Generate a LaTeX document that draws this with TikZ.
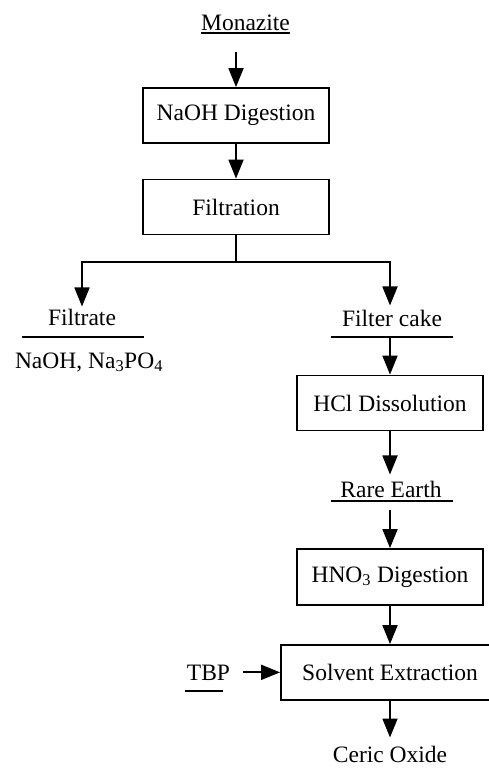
\documentclass[tikz,border=0pt]{standalone}
\usepackage{fontspec}
\setmainfont{Liberation Serif}
\usetikzlibrary{arrows.meta}
\begin{document}
\begin{tikzpicture}[x=1pt,y=-1pt,
  font=\fontsize{23.5}{28}\selectfont,
  proc/.style={draw, line width=1.8pt, minimum width=186pt, minimum height=55pt, inner sep=0pt},
  lbl/.style={inner sep=0pt, anchor=base},
  flow/.style={line width=1.8pt, -{Triangle[length=19pt,width=15pt]}},
  rulel/.style={line width=1.6pt}]
\useasboundingbox (0,0) rectangle (489,773);
% nodes
\node[lbl] (mon) at (245.5,31) {Monazite};
\node[proc] (naoh) at (236,115.5) {NaOH Digestion};
\node[proc] (filt) at (236,207) {Filtration};
\coordinate (br) at (236,262);
\node[lbl] (ftr) at (82,325) {Filtrate};
\node[lbl] (na) at (89,368) {NaOH, Na\textsubscript{3}PO\textsubscript{4}};
\node[lbl] (fc) at (392,326) {Filter cake};
\node[proc] (hcl) at (390,403) {HCl Dissolution};
\node[lbl] (re) at (391,497) {Rare Earth};
\node[proc, minimum height=56pt] (hno) at (390,577) {HNO\textsubscript{3} Digestion};
\node[proc, minimum width=218pt] (sx) at (390,672.5) {Solvent Extraction};
\node[lbl] (tbp) at (208.5,680) {TBP};
\node[lbl] (ce) at (390,762) {Ceric Oxide};
% underlines
\draw[rulel] ([yshift=-2pt]mon.base west) -- ([yshift=-2pt]mon.base east);
\draw[rulel] ([xshift=-60pt,yshift=-12pt]ftr.base) -- ([xshift=62pt,yshift=-12pt]ftr.base);
\draw[rulel] ([xshift=-61pt,yshift=-11pt]fc.base) -- ([xshift=61pt,yshift=-11pt]fc.base);
\draw[rulel] ([xshift=-60pt,yshift=-4pt]re.base) -- ([xshift=62pt,yshift=-4pt]re.base);
\draw[rulel] ([xshift=-23.5pt,yshift=-11pt]tbp.base) -- ([xshift=14.5pt,yshift=-11pt]tbp.base);
% connectors
\draw[flow] ([yshift=-21pt]mon.base -| naoh.north) -- (naoh.north);
\draw[flow] (naoh.south) -- (filt.north);
\draw[line width=1.8pt] (filt.south) -- (br);
\draw[flow] (br) -| ([yshift=2pt]ftr.north);
\draw[flow] (br) -| ([yshift=4pt]fc.north -| hcl.north);
\draw[flow] ([yshift=-11pt]fc.base -| hcl.north) -- (hcl.north);
\draw[flow] (hcl.south) -- ([yshift=6pt]re.north -| hcl.south);
\draw[flow] ([yshift=-13pt]re.base -| hno.north) -- (hno.north);
\draw[flow] (hno.south) -- (sx.north);
\draw[flow] ([xshift=13pt]tbp.east) -- (tbp.east -| sx.west);
\draw[flow] (sx.south) -- ([yshift=8pt]ce.north -| sx.south);
\end{tikzpicture}
\end{document}
